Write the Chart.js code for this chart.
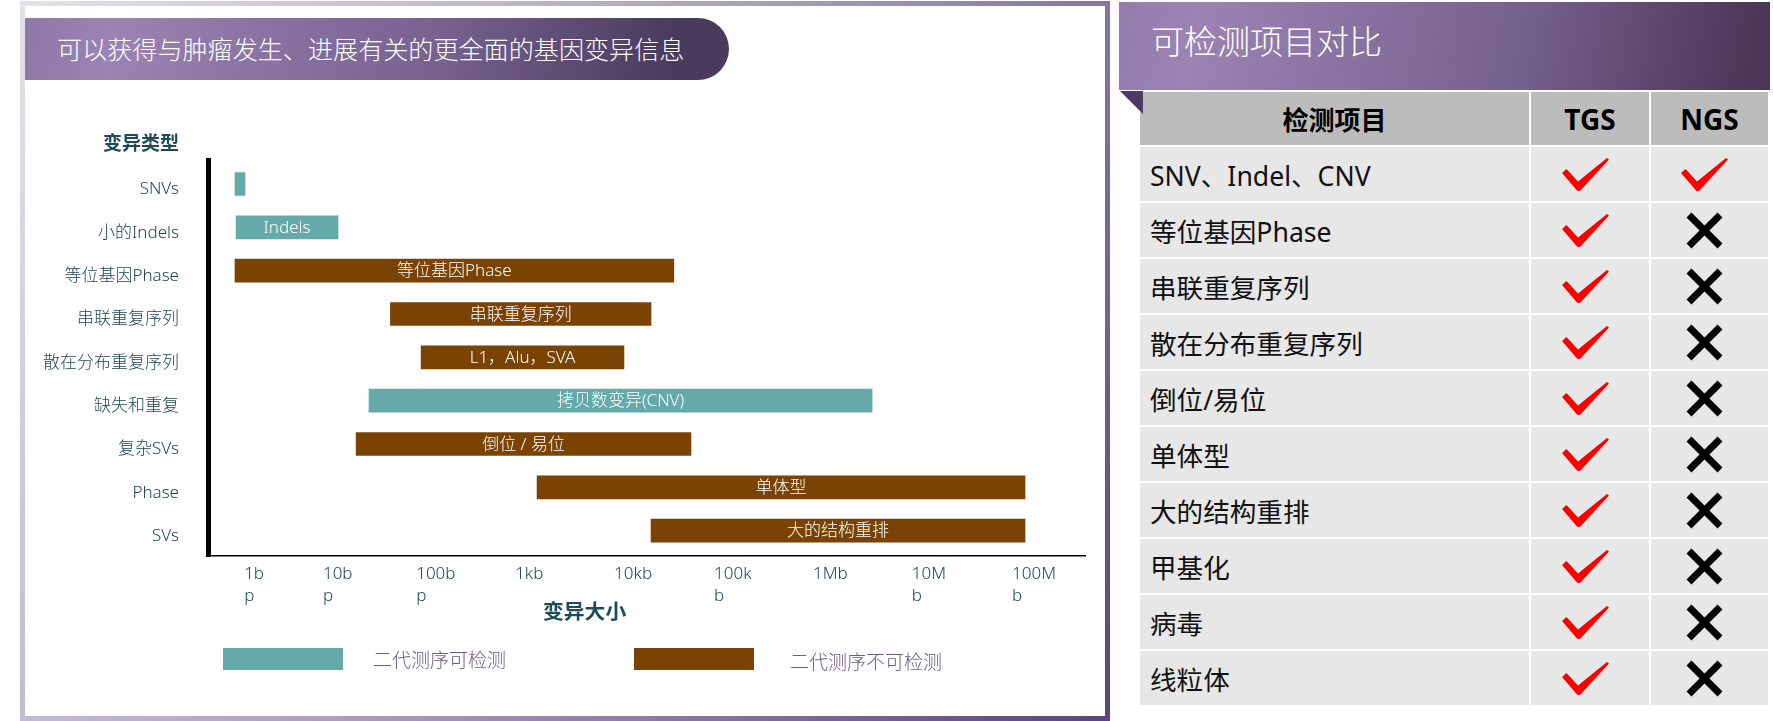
<!DOCTYPE html>
<html lang="zh">
<head>
<meta charset="utf-8">
<style>
  html, body { margin: 0; background: #fff; font-family: "Noto Sans", "Noto Sans CJK SC", sans-serif; }
  #page { position: relative; width: 1773px; height: 721px; overflow: hidden; }
  .abs { position: absolute; white-space: nowrap; }
  #frame { left: 20px; top: 1px; width: 1090px; height: 720px; background: linear-gradient(120deg, #e4e1ea 0%, #a99dbb 50%, #5a467c 100%); }
  #inner { left: 25px; top: 6px; width: 1080px; height: 710px; background: #fff; }
  #pill { left: 25px; top: 18px; width: 704px; height: 62px; border-radius: 0 31px 31px 0; background: linear-gradient(95deg, #8f77a7 0%, #9b83b3 12%, #75608e 60%, #4a3a5e 92%); color: #fff; font-family: "Noto Sans CJK SC"; font-size: 25.1px; font-weight: 300; line-height: 61px; text-indent: 32px; }
  #chartBox { left: 25px; top: 6px; width: 1080px; height: 710px; }
  .axisTitle { color: #1f4a5a; font-family: "Noto Sans CJK SC"; font-weight: 700; line-height: 24px; }
  .swatch { height: 22px; width: 120px; top: 648px; }
  .legendText { color: #6b5b84; font-family: "Noto Sans CJK SC"; font-size: 19px; font-weight: 300; line-height: 24px; }
  #band { left: 1119px; top: 2px; width: 651px; height: 88px; background: linear-gradient(100deg, #957cad 0%, #9b83b3 12%, #74608d 62%, #4b3759 96%); color: #fff; font-family: "Noto Sans CJK SC"; font-size: 33px; font-weight: 300; line-height: 76px; text-indent: 32px; }
  #fold { left: 1120px; top: 91px; }
  #compare { left: 1140px; top: 92px; display: grid; grid-template-columns: 389px 118px 117px; grid-template-rows: 53px repeat(10, 54px); gap: 2px; }
  #compare div { display: flex; align-items: center; background: #e7e7e7; color: #111; font-size: 26.6px; padding-left: 10px; white-space: nowrap; }
  #compare div.mark { justify-content: center; padding: 0 10px 0 0; }
  #compare div.head { justify-content: center; background: #bcbcbc; color: #000; font-weight: 700; font-size: 26px; padding: 0; }
  #compare div.tool { font-size: 28px; }
</style>
</head>
<body>
<div id="page">
  <div class="abs" id="frame"></div>
  <div class="abs" id="inner"></div>
  <div class="abs" id="chartBox"><canvas id="chart"></canvas></div>
  <div class="abs" id="pill">可以获得与肿瘤发生、进展有关的更全面的基因变异信息</div>
  <div class="abs axisTitle" style="right:1594px;top:130px;font-size:19px">变异类型</div>
  <div class="abs axisTitle" style="left:543px;top:598px;font-size:20.8px">变异大小</div>
  <div class="abs swatch" id="swatchYes" style="left:223px"></div>
  <div class="abs legendText" id="legendYes" style="left:373px;top:647px"></div>
  <div class="abs swatch" id="swatchNo" style="left:634px"></div>
  <div class="abs legendText" id="legendNo" style="left:790px;top:649px"></div>
  <div class="abs" id="band">可检测项目对比</div>
  <div class="abs" id="compare"></div>
  <svg class="abs" id="fold" width="23" height="23"><polygon points="0,0 23,0 23,23" fill="#4b3c66"/></svg>
</div>
<script src="https://cdn.jsdelivr.net/npm/chart.js@4/dist/chart.umd.min.js"></script>
<script>
// Chart data, sizes in bp
const categories = ['SNVs', '小的Indels', '等位基因Phase', '串联重复序列', '散在分布重复序列', '缺失和重复', '复杂SVs', 'Phase', 'SVs'];
const barLow = [0.79, 0.81, 0.79, 31, 64, 18.7, 13.8, 990, 14600];
const barHigh = [1, 9, 25000, 14600, 7700, 2700000, 37500, 100000000, 100000000];
const barText = ['', 'Indels', '等位基因Phase', '串联重复序列', 'L1，Alu，SVA', '拷贝数变异(CNV)', '倒位 / 易位', '单体型', '大的结构重排'];
const detectable = [true, true, false, false, false, true, false, false, false];
const seriesNames = ['二代测序可检测', '二代测序不可检测'];

// tick labels and where they sit in the picture (hand placed there, not on exact decades)
const tickLabels = [['1b', 'p'], ['10b', 'p'], ['100b', 'p'], '1kb', '10kb', ['100k', 'b'], '1Mb', ['10M', 'b'], ['100M', 'b']];
const tickValues = [0.98, 6.3, 57, 590, 6100, 64600, 670000, 6900000, 73600000];

// Comparison table
const compareItems = ['SNV、Indel、CNV', '等位基因Phase', '串联重复序列', '散在分布重复序列', '倒位/易位', '单体型', '大的结构重排', '甲基化', '病毒', '线粒体'];
const tgsDetect = [true, true, true, true, true, true, true, true, true, true];
const ngsDetect = [true, false, false, false, false, false, false, false, false, false];

const teal = '#65aaa9', brown = '#7a4304', ink = '#1f4553';
const fontStack = '"Noto Sans", "Noto Sans CJK SC"';
const tickFont = { family: fontStack, size: 17, weight: 300, lineHeight: 1.25 };

function ranges(flag){
  return categories.map((c, i) => detectable[i] === flag ? [barLow[i], barHigh[i]] : null);
}

// Text inside the bars
const barTextPlugin = {
  id: 'barText',
  afterDatasetsDraw(chart){
    const ctx = chart.ctx;
    ctx.save();
    ctx.font = '300 17px ' + fontStack;
    ctx.fillStyle = '#fff';
    ctx.textAlign = 'center';
    ctx.textBaseline = 'middle';
    chart.data.datasets.forEach((ds, d) => {
      chart.getDatasetMeta(d).data.forEach((bar, i) => {
        if (!ds.data[i] || !barText[i]) return;
        ctx.fillText(barText[i], (bar.x + bar.base) / 2, bar.y + 1);
      });
    });
    ctx.restore();
  }
};

// Rows stop a little above the x axis line in the picture
const rowSpanPlugin = {
  id: 'rowSpan',
  afterLayout(chart){
    const y = chart.scales.y;
    y._startPixel += 2.3;
    y._length = 390;
  }
};

new Chart(document.getElementById('chart'), {
  type: 'bar',
  data: {
    labels: categories,
    datasets: [
      { label: seriesNames[0], data: ranges(true), backgroundColor: teal },
      { label: seriesNames[1], data: ranges(false), backgroundColor: brown }
    ]
  },
  options: {
    indexAxis: 'y',
    responsive: true,
    maintainAspectRatio: false,
    animation: false,
    grouped: false,
    barThickness: 23,
    layout: { padding: { top: 154, right: 20, left: 0, bottom: 0 } },
    plugins: { legend: { display: false }, tooltip: { enabled: false } },
    scales: {
      x: {
        type: 'logarithmic',
        min: 0.4225,
        max: 412000000,
        grid: { display: false },
        border: { color: '#000', width: 1.5 },
        afterFit: s => { s.height = 160; },
        afterBuildTicks: s => { s.ticks = tickValues.map(v => ({ value: v })); },
        ticks: {
          autoSkip: false,
          maxRotation: 0,
          align: 'start',
          padding: 0,
          color: ink,
          font: tickFont,
          callback: (v, i) => tickLabels[i]
        }
      },
      y: {
        grid: { display: false },
        border: { color: '#000', width: 5 },
        afterFit: s => { s.width = 183.5; },
        ticks: { padding: 21.5, labelOffset: 5.5, color: ink, font: tickFont }
      }
    }
  },
  plugins: [barTextPlugin, rowSpanPlugin]
});

// Legend
document.getElementById('swatchYes').style.background = teal;
document.getElementById('swatchNo').style.background = brown;
document.getElementById('legendYes').textContent = seriesNames[0];
document.getElementById('legendNo').textContent = seriesNames[1];

// Comparison table
const checkMark = '<svg width="47" height="33"><polygon points="0,15 4.5,11 16,23.5 45,0 47,1.5 18,33 15.5,33" fill="#f00"/></svg>';
const crossMark = '<svg width="37" height="37"><path d="M3,3 L34,34 M34,3 L3,34" stroke="#000" stroke-width="7"/></svg>';
const compare = document.getElementById('compare');
function addCell(html, cls){
  const cell = document.createElement('div');
  if (cls) cell.className = cls;
  cell.innerHTML = html;
  compare.appendChild(cell);
}
addCell('检测项目', 'head');
addCell('TGS', 'head tool');
addCell('NGS', 'head tool');
compareItems.forEach((item, i) => {
  addCell(item);
  addCell(tgsDetect[i] ? checkMark : crossMark, 'mark');
  addCell(ngsDetect[i] ? checkMark : crossMark, 'mark');
});
</script>
</body>
</html>
